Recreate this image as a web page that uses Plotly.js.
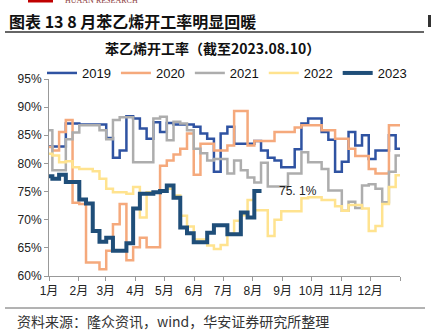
<!DOCTYPE html>
<html><head><meta charset="utf-8">
<script src="https://cdn.plot.ly/plotly-3.0.1.min.js"></script>
<style>html,body{margin:0;padding:0;background:#fff;}#chart{width:433px;height:333px;}</style>
</head><body><div id="chart"></div>
<script>
// ---- data (weekly readings, % operating rate) ----
const years = ['2019', '2020', '2021', '2022', '2023'];
const rate2019 = [83.0,83.0,83.0,87.1,87.1,86.9,86.9,86.9,86.9,84.5,81.0,82.3,88.4,88.0,86.2,84.4,87.3,85.6,87.2,86.9,86.9,86.9,86.5,85.3,84.4,78.5,85.3,86.5,83.5,83.5,83.5,84.0,82.3,81.0,80.5,79.3,79.3,82.5,87.1,88.0,88.0,85.6,84.2,78.5,80.3,85.6,83.2,85.0,80.8,82.3,82.3,85.0,82.6];
const rate2020 = [82.9,82.3,85.6,87.7,73.0,72.8,62.4,62.4,61.2,64.5,69.2,72.8,62.8,65.1,66.8,65.1,65.1,79.6,80.5,81.6,82.6,85.3,78.0,83.5,83.5,82.3,82.3,83.2,89.3,89.3,83.2,84.0,84.0,84.0,85.6,85.6,85.6,86.4,86.8,86.8,86.8,85.9,85.9,84.4,84.4,82.6,81.3,81.3,79.0,78.2,78.2,86.8,86.8];
const rate2021 = [85.9,78.8,78.8,84.3,85.5,86.8,86.8,86.8,85.9,84.3,87.7,88.2,88.2,80.2,80.2,80.2,88.0,88.3,84.1,87.4,87.1,85.9,82.6,81.8,80.5,80.8,80.8,78.2,80.5,78.8,77.5,76.6,80.1,75.9,75.9,75.9,78.2,78.2,82.0,80.2,80.2,79.0,75.2,75.2,71.6,73.2,72.1,76.1,76.3,75.5,73.1,78.5,81.4];
const rate2022 = [81.7,81.4,80.2,80.4,79.3,79.0,79.0,78.6,77.3,75.5,74.9,74.9,74.6,75.8,70.4,74.9,74.9,75.2,75.5,74.3,70.7,68.8,66.5,66.5,65.4,64.8,65.5,67.5,69.8,70.8,73.5,71.7,71.7,67.1,70.0,71.5,71.5,71.5,73.8,74.0,74.0,73.5,73.5,72.4,71.6,72.6,72.6,72.0,68.0,68.9,72.8,75.8,77.9];
const rate2023 = [77.7,77.3,78.0,76.7,76.7,73.6,72.9,68.0,66.1,66.8,64.5,64.5,65.8,72.0,74.6,74.6,74.9,75.1,76.1,73.9,68.6,67.6,66.0,66.0,67.7,69.0,69.0,67.4,67.4,71.3,70.4,75.1];
const endDay2023 = 221;        // 截至 2023.08.10
const yearEndDay = 365;
const monthLabels = ['1月','2月','3月','4月','5月','6月','7月','8月','9月','10月','11月','12月'];
const monthStartDays = [0,31,59,90,120,151,181,212,243,273,304,334,365];
const yTicks = [60,65,70,75,80,85,90,95];
const lastLabel = '75. 1%';

// ---- styling ----
const colors = ['#2F53A2', '#F5A97C', '#ADADAD', '#FFE38F', '#1F4E79'];
const widths = [2.5, 2.5, 2.5, 2.5, 4];
const latin = 'Liberation Sans, Arial, Noto Sans CJK SC, sans-serif';
const cjk = 'Noto Sans CJK SC, sans-serif';

const W = 433, H = 333, M = {l: 49, r: 33, t: 79, b: 57};
const PW = W - M.l - M.r, PH = H - M.t - M.b;
const px = x => (x - M.l) / PW;
const py = y => (H - M.b - y) / PH;

// weekly reading dates (day of year); the first reading holds from Jan 1
function readingDays(n) {
  const d = [];
  for (let k = 0; k < n; k++) d.push(k === 0 ? 0 : 7 * k - 3.5);
  return d;
}
function series(vals, endDay) {
  const x = readingDays(vals.length).concat([endDay]);
  const y = vals.concat([vals[vals.length - 1]]);
  return {x, y};
}

const allRates = [rate2019, rate2020, rate2021, rate2022, rate2023];
const traces = allRates.map((vals, i) => {
  const s = series(vals, i === 4 ? endDay2023 : yearEndDay);
  return {
    type: 'scatter', mode: 'lines', name: years[i],
    x: s.x, y: s.y,
    line: {shape: 'hv', color: colors[i], width: widths[i]},
    hoverinfo: 'skip'
  };
});

const layout = {
  width: W, height: H, margin: M,
  paper_bgcolor: '#fff', plot_bgcolor: '#fff',
  showlegend: true,
  legend: {orientation: 'h', x: px(42), y: py(73), xanchor: 'left', yanchor: 'middle',
           font: {family: latin, size: 13, color: '#111'}, bgcolor: 'rgba(0,0,0,0)',
           traceorder: 'normal'},
  xaxis: {range: [0, yearEndDay], tickmode: 'array', tickvals: monthStartDays,
          ticktext: monthLabels.concat(['']), ticks: 'outside', ticklen: 4, tickcolor: '#999',
          showline: true, linecolor: '#999', linewidth: 1, showgrid: false, zeroline: false,
          tickfont: {family: latin, size: 12, color: '#222'}, fixedrange: true},
  yaxis: {range: [60, 95], tickmode: 'array', tickvals: yTicks, ticktext: yTicks.map(v => v + '%'),
          ticks: 'outside', ticklen: 4, tickcolor: '#999',
          showline: true, linecolor: '#999', linewidth: 1, showgrid: false, zeroline: false,
          tickfont: {family: latin, size: 12, color: '#222'}, fixedrange: true},
  annotations: [
    {xref: 'paper', yref: 'paper', x: px(7), y: py(21), xanchor: 'left', yanchor: 'middle',
     text: '图表 13 8 月苯乙烯开工率明显回暖', showarrow: false,
     font: {family: cjk, size: 16, color: '#111', weight: 'bold'}},
    {xref: 'paper', yref: 'paper', x: px(212), y: py(48), xanchor: 'center', yanchor: 'middle',
     text: '苯乙烯开工率（截至2023.08.10）', showarrow: false,
     font: {family: cjk, size: 14, color: '#111', weight: 'bold'}},
    {xref: 'paper', yref: 'paper', x: px(63), y: py(1), xanchor: 'left', yanchor: 'middle',
     text: 'HUAAN RESEARCH', showarrow: false,
     font: {family: 'Liberation Serif, serif', size: 8, color: '#8B3A3A'}},
    {xref: 'paper', yref: 'paper', x: px(15), y: py(321), xanchor: 'left', yanchor: 'middle',
     text: '资料来源：隆众资讯，wind，华安证券研究所整理', showarrow: false,
     font: {family: cjk, size: 14, color: '#333'}},
    {xref: 'x', yref: 'y', x: endDay2023, y: rate2023[rate2023.length - 1],
     xanchor: 'left', yanchor: 'middle', xshift: 15, text: lastLabel, showarrow: false,
     font: {family: latin, size: 12, color: '#222'}}
  ],
  shapes: [
    {type: 'line', xref: 'paper', yref: 'paper', x0: px(5), x1: px(424), y0: py(32), y1: py(32),
     line: {color: '#333', width: 1.5}},
    {type: 'line', xref: 'paper', yref: 'paper', x0: px(5), x1: px(425), y0: py(308), y1: py(308),
     line: {color: '#666', width: 1}},
    {type: 'rect', xref: 'paper', yref: 'paper', x0: px(28), x1: px(53), y0: py(2.5), y1: py(-2),
     fillcolor: '#C00000', line: {width: 0}},
    {type: 'rect', xref: 'paper', yref: 'paper', x0: px(428), x1: px(431), y0: py(27), y1: py(15),
     fillcolor: '#333', line: {width: 0}}
  ]
};

Plotly.newPlot('chart', traces, layout, {displayModeBar: false, staticPlot: true});
</script>
</body></html>
